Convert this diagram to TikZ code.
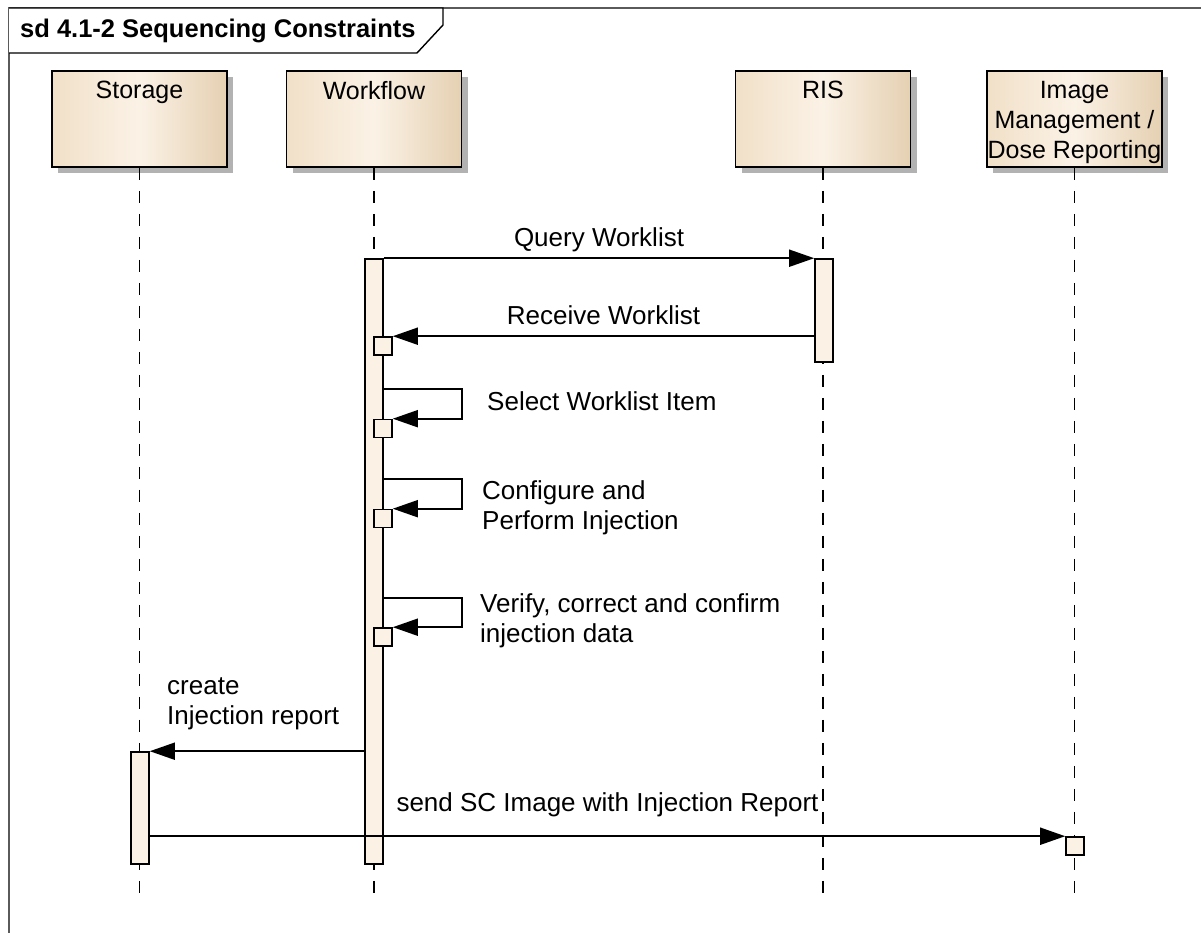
\documentclass[tikz,border=0pt]{standalone}
\usepackage{fontspec}
\setmainfont{Liberation Sans}
\usetikzlibrary{arrows.meta}
\usetikzlibrary{shadows}
\usetikzlibrary{positioning}
\definecolor{actorleft}{HTML}{F1E0C8}
\definecolor{actormid}{HTML}{FBF2E6}
\definecolor{actorright}{HTML}{E5D0B2}
\definecolor{barfill}{HTML}{FBF1E4}
\definecolor{framegray}{HTML}{5A5A5A}
\tikzset{
  every node/.style={font=\fontsize{26}{30}\selectfont, inner sep=0pt},
  actor/.style={draw, line width=1.8pt, minimum width=175pt, minimum height=96pt,
    left color=actorleft, right color=actorright, middle color=actormid,
    drop shadow={shadow xshift=6pt, shadow yshift=-6pt, fill=black!30, opacity=1}},
  actorname/.style={align=center, font=\fontsize{25}{30}\selectfont},
  lifeline/.style={line width=1.8pt, dash pattern=on 12pt off 11pt},
  bar/.style={draw, fill=barfill, line width=1.6pt, minimum width=18pt},
  msg/.style={line width=1.8pt, -{Triangle[length=25pt,width=17pt]}},
  msglabel/.style={text depth=0pt},
}

\begin{document}
\begin{tikzpicture}[x=1pt,y=-1pt]
      \useasboundingbox (0,0) rectangle (1201,933);
      \fill[white] (0,0) rectangle (1201,933);

      % frame and title tab
      \draw[framegray, line width=1.4pt] (9,933) -- (9,8) -- (1201,8);
      \draw[line width=1.4pt, fill=white] (9,8) -- (443,8) -- (443,25) -- (417,53) -- (9,53);
      \node[font=\fontsize{25.5}{30}\selectfont\bfseries, anchor=base west] (title) at (20,38) {sd 4.1-2 Sequencing Constraints};

      % participants
      \node[actor] (storage) at (139.5,119) {};
      \node[actor] (workflow) at (374,119) {};
      \node[actor] (ris) at (823,119) {};
      \node[actor] (imgrep) at (1074.5,119) {};
      \node[actorname, below=11pt of storage.north] {Storage};
      \node[actorname, below=11pt of workflow.north] {Workflow};
      \node[actorname, below=11pt of ris.north] {RIS};
      \node[actorname, below=11pt of imgrep.north] {Image\\Management /\\Dose Reporting};

      % lifelines
      \coordinate (bottom) at (0,895);
      \draw[lifeline] (storage.south) -- (storage.south |- bottom);
      \draw[lifeline] (workflow.south) -- (workflow.south |- bottom);
      \draw[lifeline] (ris.south) -- (ris.south |- bottom);
      \draw[lifeline] (imgrep.south) -- (imgrep.south |- bottom);

      % activations
      \node[bar, minimum height=605pt] (wfbar) at (374,561.5) {};
      \node[bar, minimum height=103pt] (risbar) at (824,310.5) {};
      \node[bar, minimum height=112pt] (stbar) at (140,808) {};
      \node[bar, minimum height=18pt] (imsq) at (1075,846) {};
      \node[bar, minimum height=18pt] (wfsq1) at (383,346) {};
      \node[bar, minimum height=18pt] (wfsq2) at (383,428.5) {};
      \node[bar, minimum height=18pt] (wfsq3) at (383,518.5) {};
      \node[bar, minimum height=18pt] (wfsq4) at (383,637) {};

      % messages
      \draw[msg] (wfbar.north east) -- node[msglabel, above=11pt] {Query Worklist} (risbar.north west);
      \draw[msg] (risbar.west |- wfsq1.north) -- node[msglabel, above=11pt] {Receive Worklist} (wfsq1.north east);

      \coordinate (selectstart) at (383,389);
      \coordinate (configstart) at (383,479);
      \coordinate (verifystart) at (383,598);
      \draw[msg] (selectstart) -- ++(79,0) |- (wfsq2.north east);
      \draw[msg] (configstart) -- ++(79,0) |- (wfsq3.north east);
      \draw[msg] (verifystart) -- ++(79,0) |- (wfsq4.north east);
      \node[msglabel, anchor=south west] (selectlbl) at (487,411) {Select Worklist Item};
      \node[msglabel, anchor=south west, align=left] (configlbl) at (482,530) {Configure and\\Perform Injection};
      \node[msglabel, anchor=south west, align=left] (verifylbl) at (480,643) {Verify, correct and confirm\\injection data};

      \draw[msg] (wfbar.west |- stbar.north) -- (stbar.north east);
      \node[msglabel, anchor=south west, align=left] (createlbl) at (167,725) {create\\Injection report};
      \draw[msg] (stbar.east |- imsq.north) -- node[msglabel, above=24pt] {send SC Image with Injection Report} (imsq.north west);
\end{tikzpicture}
\end{document}
